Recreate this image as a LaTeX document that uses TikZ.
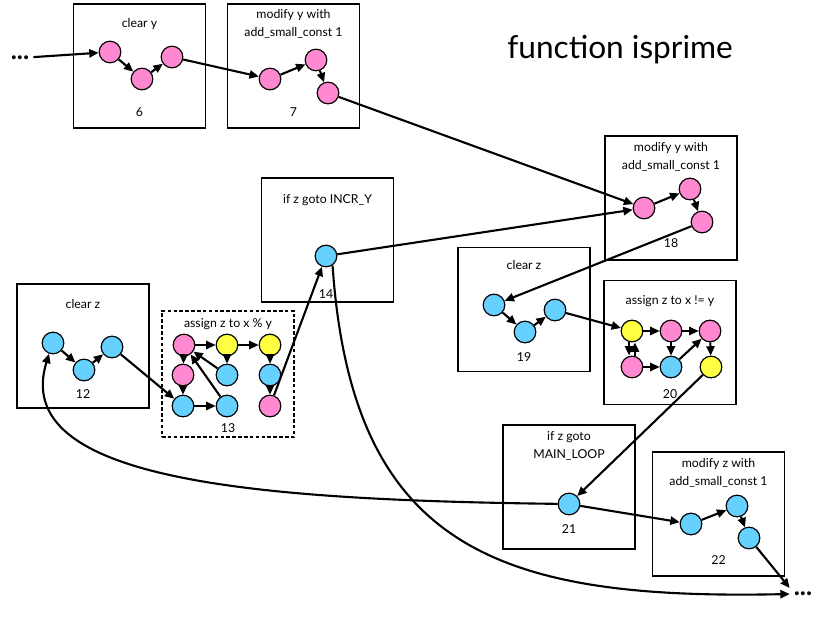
\documentclass[tikz,border=0pt]{standalone}
\usepackage{fontspec}
\setmainfont{Lato}
\usetikzlibrary{arrows.meta, positioning}
\definecolor{pnk}{HTML}{FF88D0}
\definecolor{blu}{HTML}{66D0FF}
\definecolor{ylw}{HTML}{FFFF44}

\begin{document}
\begin{tikzpicture}[x=0.03cm, y=-0.03cm,
  pnode/.style={circle, draw, line width=1pt, minimum size=0.65cm, inner sep=0pt, fill=pnk},
  bnode/.style={pnode, fill=blu},
  ynode/.style={pnode, fill=ylw},
  blk/.style={draw, line width=1.6pt, minimum width=3.96cm, minimum height=3.72cm},
  lbl/.style={font=\fontsize{10.5}{15}\selectfont, align=center},
  dots/.style={font=\fontsize{22}{22}\selectfont\bfseries},
  ->/.style={-{Triangle[length=8pt, width=7pt]}, line width=1.8pt}]
  \useasboundingbox (0,0) rectangle (824,617);
  \node[font=\fontsize{27}{32}\selectfont] (title) at (620,50) {function isprime};
  % blocks
  \node[blk] (blk6) at (139.5,66) {};
  \node[lbl] (t6) at (139.5,24) {clear y};
  \node[lbl] (k6) at (139.5,112) {6};
  \node[blk] (blk7) at (293.5,66) {};
  \node[lbl] (t7) at (293.5,24) {modify y with\\add\_small\_const 1};
  \node[lbl] (k7) at (293.5,112) {7};
  \node[blk] (blk18) at (671,198) {};
  \node[lbl] (t18) at (671,157) {modify y with\\add\_small\_const 1};
  \node[lbl] (k18) at (671,243) {18};
  \node[blk] (blk14) at (327.5,240) {};
  \node[lbl] (t14) at (327.5,200) {if z goto INCR\_Y};
  \node[lbl] (k14) at (326,294) {14};
  \node[blk] (blk19) at (524,309.5) {};
  \node[lbl] (t19) at (524,265) {clear z};
  \node[lbl] (k19) at (524,357) {19};
  \node[blk] (blk12) at (83,346) {};
  \node[lbl] (t12) at (83,304) {clear z};
  \node[lbl] (k12) at (83,394) {12};
  \node[blk, dashed, line width=1.3pt, dash pattern=on 3pt off 2pt, minimum height=3.78cm] (blk13) at (228,374) {};
  \node[lbl] (t13) at (228,324) {assign z to x \% y};
  \node[lbl] (k13) at (228,428) {13};
  \node[blk] (blk20) at (670,342.5) {};
  \node[lbl] (t20) at (670,301) {assign z to x != y};
  \node[lbl] (k20) at (670,394) {20};
  \node[blk] (blk21) at (569,487) {};
  \node[lbl] (t21) at (569,446) {if z goto\\MAIN\_LOOP};
  \node[lbl] (k21) at (569,529) {21};
  \node[blk] (blk22) at (718.5,514) {};
  \node[lbl] (t22) at (718.5,473) {modify z with\\add\_small\_const 1};
  \node[lbl] (k22) at (718.5,560) {22};
  % dots
  \node[dots] (din) at (20,58) {...};
  \node[dots] (dout) at (803,594) {...};
  % block 6
  \node[pnode] (v6a) at (110,52) {};
  \node[pnode] (v6b) at (142,79) {};
  \node[pnode] (v6c) at (172,57) {};
  % block 7
  \node[pnode] (v7a) at (270,79) {};
  \node[pnode] (v7b) at (316,60) {};
  \node[pnode] (v7c) at (328,93) {};
  % block 18
  \node[pnode] (v18a) at (644,208) {};
  \node[pnode] (v18b) at (690,189) {};
  \node[pnode] (v18c) at (702,222) {};
  % block 14
  \node[bnode] (v14) at (326,256) {};
  % block 19
  \node[bnode] (v19a) at (494,305) {};
  \node[bnode] (v19b) at (525,332) {};
  \node[bnode] (v19c) at (555,310) {};
  % block 12
  \node[bnode] (v12a) at (53,343) {};
  \node[bnode] (v12b) at (84,370) {};
  \node[bnode] (v12c) at (112,347) {};
  % block 13
  \node[pnode] (v13a) at (184,345) {};
  \node[ynode] (v13b) at (227,345) {};
  \node[ynode] (v13c) at (270,345) {};
  \node[pnode] (v13d) at (183,375) {};
  \node[bnode] (v13e) at (227,375) {};
  \node[bnode] (v13f) at (270,375) {};
  \node[bnode] (v13g) at (183,406) {};
  \node[bnode] (v13h) at (227,406) {};
  \node[pnode] (v13i) at (270,406) {};
  % block 20
  \node[ynode] (v20a) at (632,331) {};
  \node[pnode] (v20b) at (671,331) {};
  \node[pnode] (v20c) at (710,331) {};
  \node[pnode] (v20d) at (632,367) {};
  \node[bnode] (v20e) at (671,367) {};
  \node[ynode] (v20f) at (711,367) {};
  % block 21
  \node[bnode] (v21) at (569,504) {};
  % block 22
  \node[bnode] (v22a) at (691,524) {};
  \node[bnode] (v22b) at (737,506) {};
  \node[bnode] (v22c) at (749,538) {};
  % edges inside blocks
  \draw[->] (v6a) -- (v6b);
  \draw[->] (v6b) -- (v6c);
  \draw[->] (v7a) -- (v7b);
  \draw[->] (v7b) -- (v7c);
  \draw[->] (v18a) -- (v18b);
  \draw[->] (v18b) -- (v18c);
  \draw[->] (v19a) -- (v19b);
  \draw[->] (v19b) -- (v19c);
  \draw[->] (v12a) -- (v12b);
  \draw[->] (v12b) -- (v12c);
  \draw[->] (v13a) -- (v13b);
  \draw[->] (v13b) -- (v13c);
  \draw[->] (v13a) -- (v13d);
  \draw[->] (v13d) -- (v13g);
  \draw[->] (v13g) -- (v13h);
  \draw[->] (v13b) -- (v13e);
  \draw[->] (v13c) -- (v13f);
  \draw[->] (v13f) -- (v13i);
  \draw[->] (v13e) -- (v13a);
  \draw[->] (v13h) -- (v13a);
  \draw[->] (v20a) -- (v20b);
  \draw[->] (v20b) -- (v20c);
  \draw[->] ([xshift=-2.5pt]v20a.south) -- ([xshift=-2.5pt]v20d.north);
  \draw[->] ([xshift=2.5pt]v20d.north) -- ([xshift=2.5pt]v20a.south);
  \draw[->] (v20d) -- (v20e);
  \draw[->] (v20b) -- (v20e);
  \draw[->] (v20e) -- (v20c);
  \draw[->] (v20c) -- (v20f);
  \draw[->] (v22a) -- (v22b);
  \draw[->] (v22b) -- (v22c);
  % edges between blocks
  \draw[->] (din) -- (v6a);
  \draw[->] (v6c) -- (v7a);
  \draw[->] (v7c) -- (v18a);
  \draw[->] (v14) -- (v18a);
  \draw[->] (v18c) -- (v19a);
  \draw[->] (v19c) -- (v20a);
  \draw[->] (v12c) -- (v13g);
  \draw[->] (v13i) -- (v14);
  \draw[->] (v20f) -- (v21);
  \draw[->] (v21) -- (v22a);
  \draw[->] (v22c) -- (dout.north west);
  \draw[->] (v14.-55) .. controls (352,550) and (500,600) .. (dout.west);
  \draw[->] (v21) .. controls (250,500) and (10,480) .. (v12a.250);
\end{tikzpicture}
\end{document}
